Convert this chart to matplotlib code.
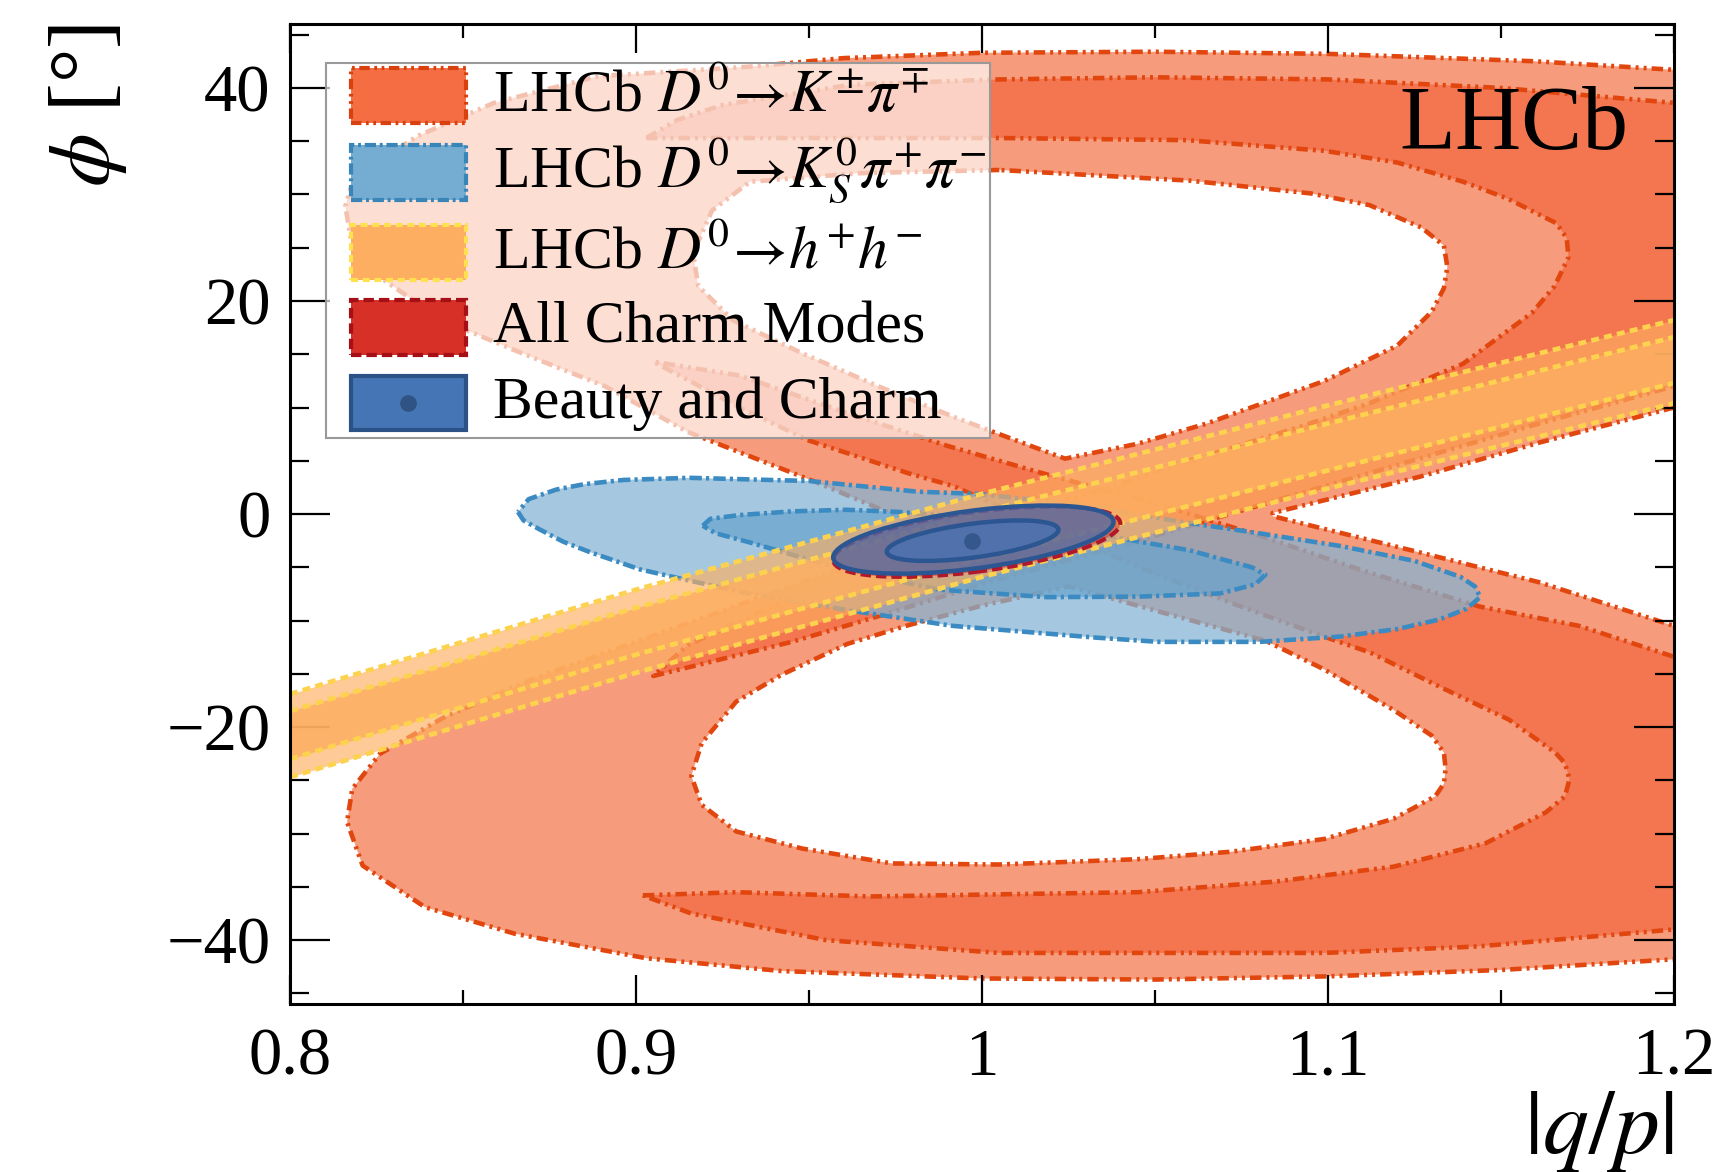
import numpy as np
import matplotlib
matplotlib.use('Agg')
import matplotlib.pyplot as plt
from matplotlib.path import Path
from matplotlib.patches import PathPatch, Patch, Circle, Rectangle
from matplotlib.lines import Line2D
from matplotlib.transforms import Affine2D
from matplotlib.colors import to_rgba
from matplotlib.ticker import MultipleLocator
from matplotlib.legend_handler import HandlerBase

plt.rcParams['font.family'] = ['Liberation Serif', 'DejaVu Serif']
plt.rcParams['mathtext.fontset'] = 'stix'

# ---------------- axes ----------------
xlim = (0.8, 1.2)
ylim = (-46, 46)
xticks = [0.8, 0.9, 1.0, 1.1, 1.2]
xticklabels = ['0.8', '0.9', '1', '1.1', '1.2']
yticks = [-40, -20, 0, 20, 40]

# ---------------- D0 -> K pi : 2 sigma region (outer boundary + two holes) ----------------
kpi2_outer_x = [1.22, 1.20, 1.16, 1.10, 1.05, 1.00, 0.96, 0.933, 0.889, 0.859, 0.837, 0.822, 0.8175, 0.816,
                0.818, 0.827, 0.844, 0.867, 0.891, 0.915, 0.952, 0.985, 0.960, 0.930, 0.900, 0.870,
                0.845, 0.826, 0.818, 0.8165, 0.821, 0.839, 0.865, 0.903, 0.942, 1.000, 1.050, 1.100,
                1.150, 1.200, 1.220, 1.220, 1.200, 1.161, 1.1265, 1.084, 1.084, 1.1265, 1.161, 1.200, 1.220]
kpi2_outer_y = [41.3, 41.7, 42.5, 43.2, 43.4, 43.3, 42.8, 42.0, 41.1, 38.6, 35.5, 32.4, 30.6, 28.9,
                25.1, 22.0, 18.2, 15.1, 12.0, 7.7, 3.0, -1.5, -5.0, -8.5, -12.0, -15.5,
                -19.0, -22.5, -25.8, -28.9, -33.0, -36.9, -39.4, -41.7, -42.9, -43.6, -43.7, -43.4,
                -42.8, -41.8, -41.4, -11.5, -10.5, -6.4, -3.6, -0.2, 0.1, 3.5, 6.7, 10.0, 11.6]
kpi2_holeU_x = [1.005, 0.965, 0.933, 0.922, 0.9165, 0.918, 0.928, 0.948, 0.970, 0.992, 1.005, 1.024,
                1.045, 1.065, 1.099, 1.120, 1.130, 1.1335, 1.1345, 1.1335, 1.127, 1.112, 1.095, 1.060]
kpi2_holeU_y = [32.3, 32.0, 31.2, 28.5, 24.5, 21.4, 18.2, 15.1, 12.0, 9.1, 7.5, 5.2,
                6.6, 8.5, 12.5, 15.8, 19.0, 21.2, 23.2, 25.2, 26.9, 29.0, 30.1, 31.3]
kpi2_holeL_x = [0.978, 1.000, 1.025, 1.055, 1.082, 1.099, 1.119, 1.130, 1.1335, 1.134, 1.1335, 1.131,
                1.119, 1.099, 1.072, 1.045, 1.005, 0.974, 0.948, 0.929, 0.919, 0.916, 0.919, 0.929,
                0.942, 0.961]
kpi2_holeL_y = [-10.5, -8.6, -6.8, -9.5, -11.9, -14.6, -18.4, -20.8, -22.4, -23.9, -25.3, -26.5,
                -28.6, -30.5, -31.7, -32.4, -32.9, -32.8, -31.4, -29.8, -27.3, -24.6, -21.5, -17.6,
                -15.1, -12.2]

# ---------------- D0 -> K pi : 1 sigma region (two hooks) ----------------
kpi1_A_x = [0.903, 0.912, 0.925, 0.962, 1.005, 1.050, 1.100, 1.150, 1.200, 1.220, 1.220, 1.200,
            1.160, 1.120, 1.080, 1.040, 1.000, 0.970, 0.945, 0.925, 0.905, 0.915, 0.935, 0.970,
            1.000, 1.030, 1.060, 1.092, 1.112, 1.139, 1.159, 1.1655, 1.1695, 1.1690, 1.166, 1.152,
            1.139, 1.120, 1.099, 1.059, 1.005, 0.950]
kpi1_A_y = [35.3, 37.0, 38.4, 40.3, 40.8, 41.0, 40.8, 40.0, 38.6, 38.0, 13.9, 12.0,
            8.4, 4.6, 0.8, -3.0, -6.6, -9.6, -12.0, -13.6, -15.2, -12.3, -9.3, -4.6,
            -1.3, 1.8, 5.0, 8.2, 10.4, 14.1, 18.9, 21.4, 24.1, 25.9, 27.3, 29.6,
            31.2, 33.0, 34.1, 35.1, 35.3, 35.3]
kpi1_B_x = [0.902, 0.929, 0.968, 1.005, 1.045, 1.085, 1.119, 1.1456, 1.163, 1.1685, 1.1698, 1.1685,
            1.1657, 1.1523, 1.1322, 1.1122, 1.0988, 1.075, 1.050, 1.020, 0.992, 0.979, 0.950, 0.930,
            0.905, 0.930, 0.960, 0.990, 1.020, 1.050, 1.080, 1.110, 1.144, 1.1726, 1.200, 1.220,
            1.220, 1.200, 1.143, 1.099, 1.005, 0.955, 0.916]
kpi1_B_y = [-35.8, -35.5, -35.9, -35.7, -35.5, -34.5, -33.1, -30.9, -28.0, -26.5, -24.9, -23.4,
            -22.4, -19.3, -16.2, -13.0, -11.5, -8.7, -5.6, -1.5, 2.6, 3.8, 6.9, 10.0,
            14.3, 13.0, 9.6, 6.4, 3.6, 1.0, -2.0, -5.3, -8.7, -10.5, -13.4, -14.5,
            -38.5, -39.0, -40.6, -41.2, -41.2, -40.0, -37.5]

# ---------------- D0 -> KS pi pi contours ----------------
ks2_x = [0.8659, 0.8675, 0.8722, 0.8790, 0.8869, 0.9012, 0.9107, 0.9327, 0.9607, 0.9916, 1.0329,
         1.0511, 1.0803, 1.1036, 1.1200, 1.1322, 1.1400, 1.1440, 1.1425, 1.1383, 1.1250, 1.1036,
         1.0800, 1.0571, 1.0282, 0.9982, 0.9814, 0.9502, 0.9155, 0.8964, 0.8850, 0.8770, 0.8690]
ks2_y = [0.2, -0.6, -1.45, -2.6, -3.6, -5.2, -5.9, -7.5, -9.0, -10.5, -11.6,
         -12.0, -12.0, -11.5, -10.8, -9.9, -8.9, -7.8, -6.8, -5.9, -4.4, -3.0,
         -1.8, -0.7, 0.9, 1.9, 2.1, 3.1, 3.4, 3.2, 2.8, 2.3, 1.4]
ks1_x = [0.9193, 0.9215, 0.9298, 0.9450, 0.9607, 0.9760, 1.0027, 1.0250, 1.0457, 1.0600, 1.0689,
         1.0780, 1.0819, 1.0790, 1.0689, 1.0457, 1.0186, 0.9877, 0.9700, 0.9518, 0.9333, 0.9230]
ks1_y = [-1.1, -0.45, -0.1, 0.25, 0.4, 0.2, -0.5, -1.4, -2.6, -3.4, -4.2,
         -5.0, -5.7, -6.6, -7.45, -7.75, -7.8, -7.1, -5.9, -4.45, -2.7, -1.8]

# ---------------- D0 -> h h band ----------------
hh_x = [0.8, 0.9, 1.0, 1.1, 1.2]
hh_2s_hi = [-16.9, -7.1, 1.9, 10.2, 18.2]
hh_1s_hi = [-18.5, -8.8, 0.2, 8.5, 16.6]
hh_1s_lo = [-23.0, -13.2, -4.2, 4.1, 12.3]
hh_2s_lo = [-24.7, -14.9, -5.9, 2.4, 10.4]

# ---------------- combinations (centre, half-extent x, half-extent y, correlation) ----------------
charm_2s = (0.9985, -2.6, 0.0415, 3.3, 0.52)
bc_2s = (0.9975, -2.4, 0.0405, 3.2, 0.52)
bc_1s = (0.9973, -2.5, 0.0248, 1.9, 0.54)
bc_best = (0.997, -2.5)

labels = [r'LHCb $D^0\!\rightarrow\! K^{\pm}\pi^{\mp}$',
          r'LHCb $D^0\!\rightarrow\! K^0_S\pi^{+}\pi^{-}$',
          r'LHCb $D^0\!\rightarrow\! h^{+}h^{-}$',
          'All Charm Modes',
          'Beauty and Charm']

# ---------------- styles ----------------
kpi_c2, kpi_c1, kpi_line = '#f69c7d', '#f37650', '#e2460f'
kpi_ls = (0, (2.5, 1.1, 0.65, 1.1, 0.65, 1.1))
ks2_fill, ks1_fill, ks_line = '#82b3d4', '#69a5cd', '#3b8bc2'
ks_ls = (0, (2.7, 0.9, 0.7, 0.9))
hh_fill, hh_line = '#fdae61', '#fdd24e'
hh_ls = (0, (1.7, 1.1))
ch_fill, ch_line = '#d73027', '#b2182b'
bc_fill, bc_line = '#4472b4', '#2c5691'


def signed_area(v):
    x, y = v[:, 0], v[:, 1]
    return 0.5 * np.sum(x * np.roll(y, -1) - np.roll(x, -1) * y)


def compound_path(outer, holes):
    verts, codes = [], []
    rings = [outer if signed_area(outer) > 0 else outer[::-1]]
    rings += [h if signed_area(h) < 0 else h[::-1] for h in holes]
    for r in rings:
        verts.extend(r.tolist())
        verts.append(r[0].tolist())
        codes.extend([Path.MOVETO] + [Path.LINETO] * (len(r) - 1) + [Path.CLOSEPOLY])
    return Path(verts, codes)


def closed(x, y):
    return np.append(x, x[0]), np.append(y, y[0])


fig = plt.figure(figsize=(17.27, 11.72), dpi=100)
ax = fig.add_axes([0.1679, 0.1433, 0.8014, 0.8362])
ax.set_xlim(*xlim)
ax.set_ylim(*ylim)

# K pi
outer = np.column_stack([kpi2_outer_x, kpi2_outer_y])
holeU = np.column_stack([kpi2_holeU_x, kpi2_holeU_y])
holeL = np.column_stack([kpi2_holeL_x, kpi2_holeL_y])
ax.add_patch(PathPatch(compound_path(outer, [holeU, holeL]), facecolor=kpi_c2, edgecolor='none', zorder=1))
ax.fill(kpi1_A_x, kpi1_A_y, color=kpi_c1, lw=0, zorder=1.1)
ax.fill(kpi1_B_x, kpi1_B_y, color=kpi_c1, lw=0, zorder=1.1)
for xs, ys in [(kpi2_outer_x, kpi2_outer_y), (kpi2_holeU_x, kpi2_holeU_y), (kpi2_holeL_x, kpi2_holeL_y),
               (kpi1_A_x, kpi1_A_y), (kpi1_B_x, kpi1_B_y)]:
    cx, cy = closed(xs, ys)
    ax.plot(cx, cy, color=kpi_line, lw=3.3, ls=kpi_ls, zorder=1.2)

# KS pi pi
ax.fill(ks2_x, ks2_y, color=ks2_fill, alpha=0.72, lw=0, zorder=2)
ax.fill(ks1_x, ks1_y, color=ks1_fill, alpha=0.72, lw=0, zorder=2.1)
for xs, ys in [(ks2_x, ks2_y), (ks1_x, ks1_y)]:
    cx, cy = closed(xs, ys)
    ax.plot(cx, cy, color=ks_line, lw=3.3, ls=ks_ls, zorder=2.2)

# h h
ax.fill_between(hh_x, hh_2s_lo, hh_2s_hi, color=hh_fill, alpha=0.65, lw=0, zorder=3)
ax.fill_between(hh_x, hh_1s_lo, hh_1s_hi, color=hh_fill, alpha=0.85, lw=0, zorder=3.1)
for ys in [hh_2s_hi, hh_1s_hi, hh_1s_lo, hh_2s_lo]:
    ax.plot(hh_x, ys, color=hh_line, lw=3.4, ls=hh_ls, zorder=3.2)


def gauss_ellipse(par, **kw):
    cx, cy, sx, sy, rho = par
    m = np.array([[sx, 0, cx], [sy * rho, sy * np.sqrt(1 - rho ** 2), cy], [0, 0, 1]])
    return Circle((0, 0), 1, transform=Affine2D(m) + ax.transData, **kw)


ax.add_patch(gauss_ellipse(charm_2s, facecolor=to_rgba(ch_fill, 0.5), edgecolor=ch_line,
                           lw=3.0, ls=(0, (2.5, 1.2)), zorder=4))
ax.add_patch(gauss_ellipse(bc_2s, facecolor=to_rgba(bc_fill, 0.72), edgecolor=bc_line, lw=3.2, zorder=5))
ax.add_patch(gauss_ellipse(bc_1s, facecolor=to_rgba(bc_fill, 0.72), edgecolor=bc_line, lw=3.2, zorder=5.1))
ax.plot([bc_best[0]], [bc_best[1]], 'o', ms=11, color='#34578c', zorder=5.2)

# axes styling
ax.set_xticks(xticks)
ax.set_xticklabels(xticklabels)
ax.set_yticks(yticks)
ax.xaxis.set_minor_locator(MultipleLocator(0.05))
ax.yaxis.set_minor_locator(MultipleLocator(5))
ax.tick_params(axis='both', which='both', direction='in', top=True, right=True, width=1.6)
ax.tick_params(axis='x', which='major', length=21, pad=17, labelsize=48)
ax.tick_params(axis='x', which='minor', length=10)
ax.tick_params(axis='y', which='major', length=29, pad=14, labelsize=48)
ax.tick_params(axis='y', which='minor', length=14)
for s in ax.spines.values():
    s.set_linewidth(2.2)
    s.set_zorder(10)

ax.set_xlabel(r'$|q/p|$', fontsize=66, loc='right', labelpad=0)
ax.set_ylabel(r'$\phi$ [°]', fontsize=62, loc='top', labelpad=27)

ax.text(0.967, 0.8724, 'LHCb', transform=ax.transAxes, ha='right', va='baseline', fontsize=66, zorder=20)


# ---------------- legend ----------------
class BoxHandler(HandlerBase):
    """Legend key: a box of fixed height, optionally with a dot in the middle."""

    def __init__(self, box_h, shift, dot=None):
        super().__init__()
        self.box_h, self.shift, self.dot = box_h, shift, dot

    def create_artists(self, legend, orig_handle, xdescent, ydescent, width, height, fontsize, trans):
        cy = -ydescent + height / 2 - self.shift * fontsize
        r = Rectangle((-xdescent, cy - self.box_h / 2), width, self.box_h)
        r.update_from(orig_handle)
        r.set_transform(trans)
        arts = [r]
        if self.dot is not None:
            d = Line2D([-xdescent + width / 2], [cy], marker='o', ls='None', ms=11, color=self.dot)
            d.set_transform(trans)
            arts.append(d)
        return arts


handles = [
    Patch(facecolor='#f46d43', edgecolor='#d8400e', lw=3.0, ls=kpi_ls),
    Patch(facecolor='#74add1', edgecolor='#3a85b8', lw=3.0, ls=ks_ls),
    Patch(facecolor='#fdae61', edgecolor='#fee050', lw=3.0, ls=hh_ls),
    Patch(facecolor='#d73027', edgecolor='#a50f15', lw=3.0, ls=(0, (2.5, 1.2))),
    Patch(facecolor='#4575b4', edgecolor='#2b5286', lw=3.0),
]
hmap = {h: BoxHandler(39.5, 0.09) for h in handles[:4]}
hmap[handles[4]] = BoxHandler(39.5, 0.09, dot='#2f5383')

# legend frame (semi-transparent white box)
ax.add_patch(Rectangle((0.02625, 0.5775), 0.4797, 0.3832, transform=ax.transAxes,
                       facecolor=to_rgba('white', 0.67), edgecolor='#999999', lw=1.5, zorder=14))
leg = ax.legend(handles, labels, handler_map=hmap, loc='upper left', bbox_to_anchor=(0.04375, 0.9635),
                borderaxespad=0, borderpad=0, frameon=False, fontsize=43, handlelength=1.94,
                handleheight=1.2, handletextpad=0.44, labelspacing=0.19)
leg.set_zorder(15)

fig.savefig('out.png', dpi=100)
